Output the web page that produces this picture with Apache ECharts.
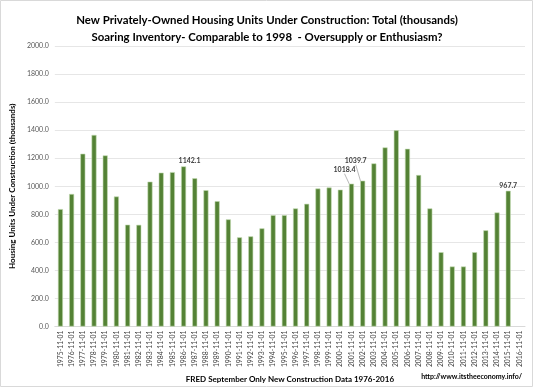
<!DOCTYPE html>
<html><head><meta charset="utf-8">
<script src="https://cdn.jsdelivr.net/npm/echarts@6/dist/echarts.min.js"></script>
<style>html,body{margin:0;padding:0;background:#fff}#c{width:534px;height:388px}</style>
</head><body><div id="c"></div>
<script>
var categories = ['1975-11-01','1976-11-01','1977-11-01','1978-11-01','1979-11-01','1980-11-01','1981-11-01','1982-11-01','1983-11-01','1984-11-01','1985-11-01','1986-11-01','1987-11-01','1988-11-01','1989-11-01','1990-11-01','1991-11-01','1992-11-01','1993-11-01','1994-11-01','1995-11-01','1996-11-01','1997-11-01','1998-11-01','1999-11-01','2000-11-01','2001-11-01','2002-11-01','2003-11-01','2004-11-01','2005-11-01','2006-11-01','2007-11-01','2008-11-01','2009-11-01','2010-11-01','2011-11-01','2012-11-01','2013-11-01','2014-11-01','2015-11-01','2016-11-01'];
var units = [837,945,1232,1366,1220,927,726,725,1033,1097,1101,1142.1,1057,972,894,764,636,643,700,794,794,842,875,984,991,976,1018.4,1039.7,1163,1277,1399,1267,1080,842,530,428,428,530,686,813,967.7,null];
var labelledYears = ['1986-11-01','2001-11-01','2002-11-01','2015-11-01'];
var yTicks = [0,200,400,600,800,1000,1200,1400,1600,1800,2000];

var labelShift = {'1986-11-01':[6,0],'2001-11-01':[-7,-8],'2002-11-01':[-7,-14],'2015-11-01':[0,0]};
var data = units.map(function(v,i){
  var c = categories[i];
  if (labelledYears.indexOf(c) >= 0) {
    return {value:v, label:{show:true}, labelLine:{show: labelShift[c][1] !== 0}};
  }
  return v;
});

var chart = echarts.init(document.getElementById('c'));
chart.setOption({
  animation:false,
  title:{
    text:'New Privately-Owned Housing Units Under Construction: Total (thousands)\nSoaring Inventory- Comparable to 1998  - Oversupply or Enthusiasm?',
    left:'center', top:7,
    textStyle:{fontFamily:'Lato', fontWeight:'bold', fontSize:11.4, color:'#000', lineHeight:17}
  },
  graphic:[
    {type:'rect', shape:{x:0.5,y:0.5,width:532,height:386}, style:{fill:null, stroke:'#d9d9d9', lineWidth:1}, silent:true},
    {type:'text', right:12, top:373, style:{text:'http://www.itstheeconomy.info/', fontFamily:'Lato', fontWeight:'bold', fontSize:7, fill:'#000'}}
  ],
  grid:{left:48, right:9, top:46, bottom:60, containLabel:false},
  xAxis:{
    type:'category', data:categories, boundaryGap:true,
    axisLine:{lineStyle:{color:'#d9d9d9'}}, axisTick:{show:false},
    axisLabel:{rotate:90, interval:0, fontSize:6.8, color:'#404040', fontFamily:'Lato', margin:4},
    name:'FRED September Only New Construction Data 1976-2016',
    nameLocation:'middle', nameGap:37,
    nameTextStyle:{fontFamily:'Lato', fontWeight:'bold', fontSize:8, color:'#000', padding:[0,0,0,0]}
  },
  yAxis:{
    type:'value', min:0, max:2000, interval:200,
    axisLine:{show:false}, axisTick:{show:false},
    splitLine:{lineStyle:{color:'#e6e6e6'}},
    axisLabel:{formatter:function(v){return v.toFixed(1);}, fontSize:7, color:'#595959', fontFamily:'Lato', margin:6},
    name:'Housing Units Under Construction (thousands)', nameLocation:'middle', nameGap:32,
    nameTextStyle:{fontFamily:'Lato', fontWeight:'bold', fontSize:8, color:'#000'}
  },
  series:[{
    type:'bar', data:data, barWidth:5,
    itemStyle:{color:'#548235', borderColor:'#c5dcb4', borderWidth:0.6},
    label:{show:false, position:'top', distance:2, fontSize:7, fontFamily:'Lato', fontWeight:'bold', color:'#404040',
      formatter:function(p){return p.value.toFixed(1);}},
    labelLine:{lineStyle:{color:'#a6a6a6', width:0.8}},
    labelLayout:function(p){
      var s = labelShift[categories[p.dataIndex]] || [0,0];
      return {dx:s[0], dy:s[1]};
    }
  }]
});
</script></body></html>
